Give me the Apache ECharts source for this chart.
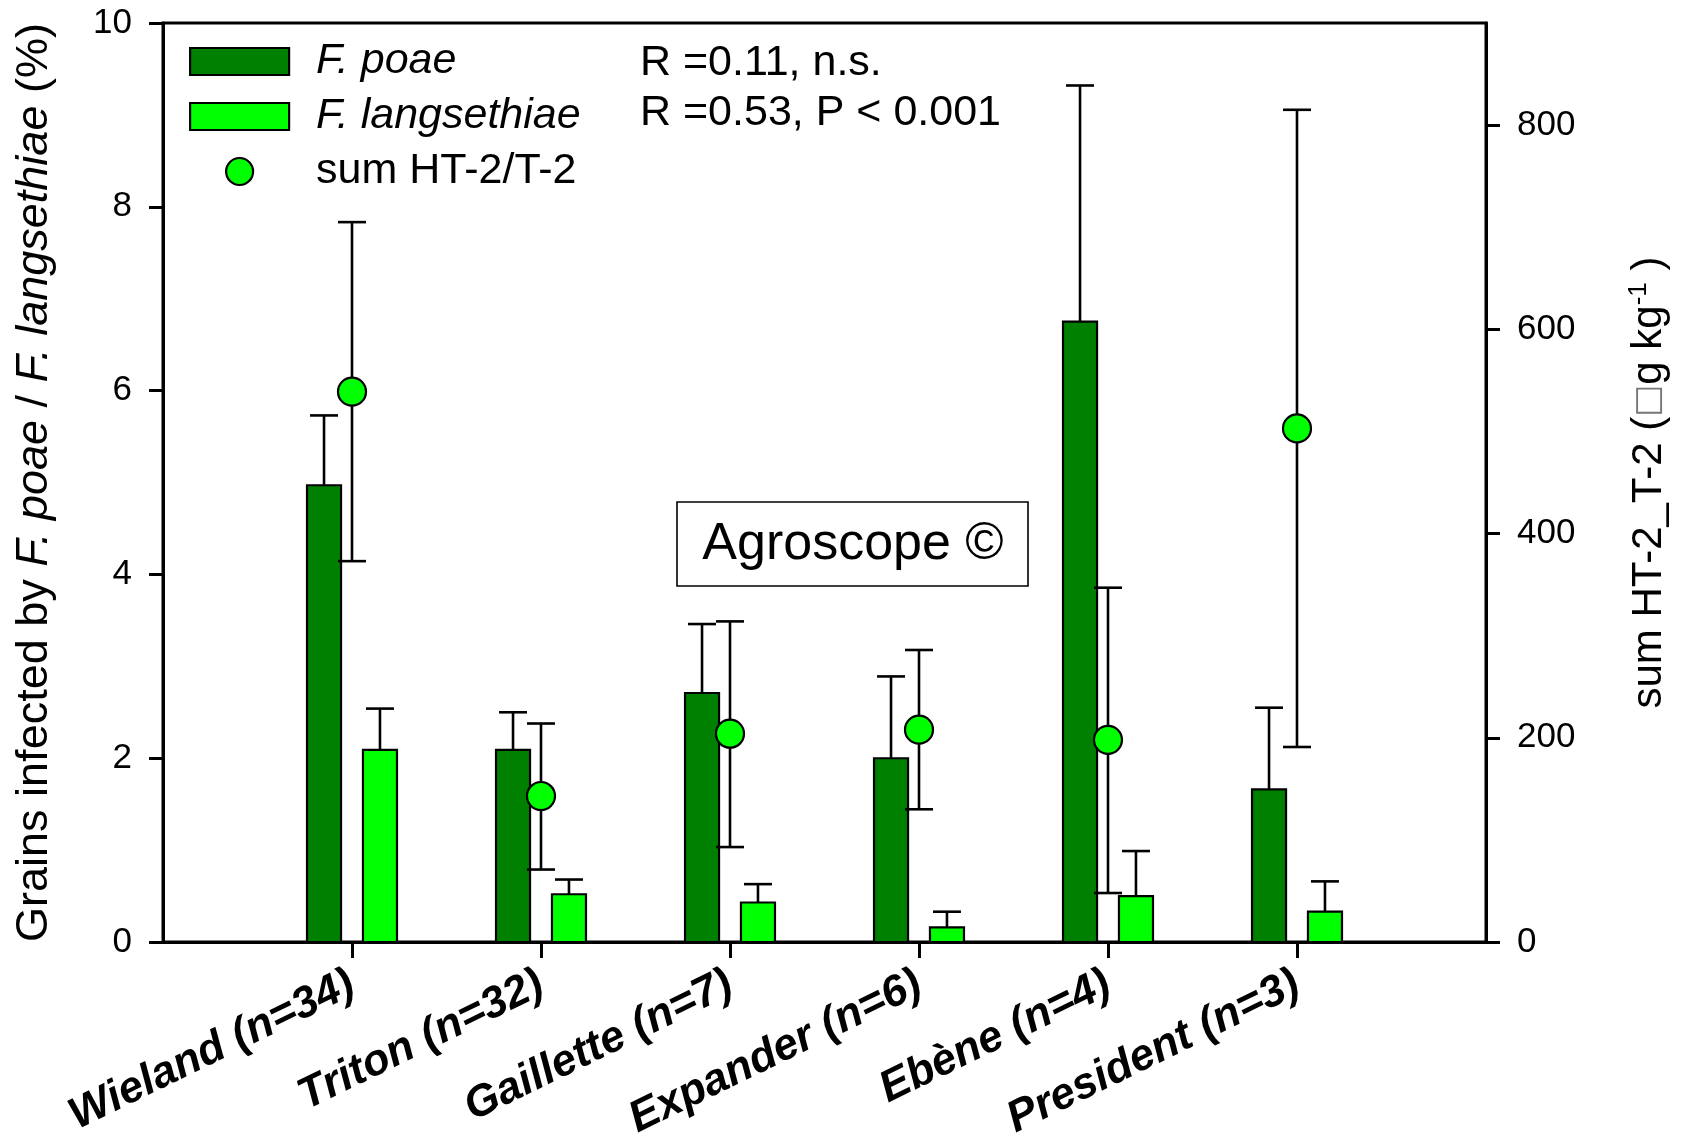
<!DOCTYPE html>
<html>
<head>
<meta charset="utf-8">
<script src="https://cdn.jsdelivr.net/npm/echarts@6/dist/echarts.min.js"></script>
<style>
html, body { margin: 0; padding: 0; background: #fff; }
#chart { width: 1681px; height: 1143px; }
</style>
</head>
<body>
<div id="chart"></div>
<script>
var categories = ['Wieland (n=34)', 'Triton (n=32)', 'Gaillette (n=7)', 'Expander (n=6)', 'Ebène (n=4)', 'President (n=3)'];
// F. poae, % grains infected, bar top and top of error bar
var poae = [4.97, 2.09, 2.71, 2.00, 6.75, 1.66];
var poaeHi = [5.73, 2.50, 3.46, 2.89, 9.32, 2.55];
// F. langsethiae
var lang = [2.09, 0.52, 0.43, 0.16, 0.50, 0.33];
var langHi = [2.54, 0.68, 0.63, 0.33, 0.99, 0.66];
// sum HT-2/T-2, right axis
var toxin = [539, 143, 204, 208, 198, 503];
var toxinHi = [705, 214, 314, 286, 347, 815];
var toxinLo = [373, 71, 93, 130, 48, 191];
var leftTicks = [0, 2, 4, 6, 8, 10];
var rightTicks = [0, 200, 400, 600, 800];

var FONT = '"Liberation Sans", Arial, sans-serif';
var DARK = '#008000';
var LIGHT = '#00ff00';
var OFFSET = 0.148;   // bar offset from group centre, in category units
var BAR_W = 0.18;     // bar width, in category units
var CAP_W = 0.148;    // error cap width

function idx(arr) {
	var out = [];
	for (var i = 0; i < arr.length; i++) out.push([i, arr[i]]);
	return out;
}
function idx2(a, b) {
	var out = [];
	for (var i = 0; i < a.length; i++) out.push([i, a[i], b[i]]);
	return out;
}

function barRender(offset, color) {
	return function (params, api) {
		var x = api.value(0) + offset;
		var top = api.coord([x, api.value(1)]);
		var base = api.coord([x, 0]);
		var w = api.size([BAR_W, 0])[0];
		return {
			type: 'rect',
			shape: { x: top[0] - w / 2, y: top[1], width: w, height: base[1] - top[1] },
			style: { fill: color, stroke: '#000', lineWidth: 2.2 }
		};
	};
}

function errRender(offset, both) {
	return function (params, api) {
		var x = api.value(0) + offset;
		var hi = api.coord([x, api.value(1)]);
		var lo = api.coord([x, api.value(2)]);
		var c = api.size([CAP_W, 0])[0] / 2;
		var st = { stroke: '#000', lineWidth: 2.6 };
		var children = [
			{ type: 'line', shape: { x1: hi[0], y1: hi[1], x2: lo[0], y2: lo[1] }, style: st },
			{ type: 'line', shape: { x1: hi[0] - c, y1: hi[1], x2: hi[0] + c, y2: hi[1] }, style: st }
		];
		if (both) {
			children.push({ type: 'line', shape: { x1: lo[0] - c, y1: lo[1], x2: lo[0] + c, y2: lo[1] }, style: st });
		}
		return { type: 'group', children: children };
	};
}

var myChart = echarts.init(document.getElementById('chart'));
var option = {
	animation: false,
	backgroundColor: '#fff',
	textStyle: { fontFamily: FONT, color: '#000' },
	grid: {
		left: 163, right: 195, top: 23, bottom: 193,
		show: true, borderColor: '#000', borderWidth: 3
	},
	legend: {
		orient: 'vertical',
		left: 189, top: 40, padding: 0,
		itemWidth: 99, itemHeight: 27, itemGap: 12,
		symbolKeepAspect: true,
		selectedMode: false,
		textStyle: { fontFamily: FONT, fontSize: 43, color: '#000', padding: [0, 0, 0, 22] },
		data: [
			{ name: 'F. poae', icon: 'rect', itemStyle: { color: DARK, borderColor: '#000', borderWidth: 2.2 }, textStyle: { fontStyle: 'italic' } },
			{ name: 'F. langsethiae', icon: 'rect', itemStyle: { color: LIGHT, borderColor: '#000', borderWidth: 2.2 }, textStyle: { fontStyle: 'italic' } },
			{ name: 'sum HT-2/T-2', icon: 'circle', itemStyle: { color: LIGHT, borderColor: '#000', borderWidth: 2.2 } }
		]
	},
	xAxis: {
		type: 'value', min: -1, max: 6,
		splitLine: { show: false },
		axisLine: { show: true, onZero: false, lineStyle: { color: '#000', width: 3 } },
		axisTick: { show: true, customValues: [0, 1, 2, 3, 4, 5], length: 16, lineStyle: { color: '#000', width: 3 } },
		axisLabel: {
			customValues: [0, 1, 2, 3, 4, 5],
			formatter: function (v) { return categories[Math.round(v)]; },
			rotate: 26, margin: 40,
			fontFamily: FONT, fontSize: 44, fontWeight: 'bold', fontStyle: 'italic', color: '#000'
		}
	},
	yAxis: [
		{
			type: 'value', min: 0, max: 10, interval: 2,
			position: 'left',
			splitLine: { show: false },
			axisLine: { show: true, onZero: false, lineStyle: { color: '#000', width: 3 } },
			axisTick: { show: true, length: 14, lineStyle: { color: '#000', width: 3 } },
			axisLabel: { customValues: leftTicks, margin: 31, fontFamily: FONT, fontSize: 35, color: '#000' },
			name: '{n|Grains infected by }{i|F. poae}{n| / }{i|F. langsethiae}{n| (%)}',
			nameLocation: 'middle', nameGap: 106,
			nameTextStyle: {
				fontFamily: FONT, fontSize: 45, color: '#000',
				rich: {
					n: { fontFamily: FONT, fontSize: 45, color: '#000' },
					i: { fontFamily: FONT, fontSize: 45, color: '#000', fontStyle: 'italic' }
				}
			}
		},
		{
			type: 'value', min: 0, max: 900,
			position: 'right',
			splitLine: { show: false },
			axisLine: { show: true, onZero: false, lineStyle: { color: '#000', width: 3 } },
			axisTick: { show: true, customValues: rightTicks, length: 14, lineStyle: { color: '#000', width: 3 } },
			axisLabel: { customValues: rightTicks, margin: 31, fontFamily: FONT, fontSize: 35, color: '#000' },
			name: '{n|sum HT-2_T-2 (}{b|□}{n|g kg}{s|-1}{n| )}',
			nameLocation: 'middle', nameGap: 140, nameRotate: 90,
			nameTextStyle: {
				fontFamily: FONT, fontSize: 42, color: '#000',
				rich: {
					n: { fontFamily: FONT, fontSize: 42, color: '#000', lineHeight: 46 },
					b: { fontFamily: 'DejaVu Sans', fontSize: 34, color: '#777', lineHeight: 46 },
					s: { fontFamily: FONT, fontSize: 26, color: '#000', verticalAlign: 'top', lineHeight: 46 }
				}
			}
		}
	],
	graphic: [
		{ type: 'text', left: 640, top: 42, style: { text: 'R =0.11, n.s.', font: '43px "Liberation Sans", Arial, sans-serif', fill: '#000' } },
		{ type: 'text', left: 640, top: 92, style: { text: 'R =0.53, P < 0.001', font: '43px "Liberation Sans", Arial, sans-serif', fill: '#000' } },
		{ type: 'rect', shape: { x: 677, y: 502, width: 351, height: 84 }, style: { fill: '#fff', stroke: '#000', lineWidth: 1.6 }, z: 10 },
		{ type: 'text', x: 853, y: 545, style: { text: 'Agroscope ©', font: '52px "Liberation Sans", Arial, sans-serif', fill: '#000', textAlign: 'center', textVerticalAlign: 'middle' }, z: 11 }
	],
	series: [
		{ name: 'F. poae', type: 'custom', yAxisIndex: 0, renderItem: errRender(-OFFSET, false), data: idx2(poaeHi, poae), z: 2 },
		{ name: 'F. langsethiae', type: 'custom', yAxisIndex: 0, renderItem: errRender(OFFSET, false), data: idx2(langHi, lang), z: 2 },
		{ name: 'F. poae', type: 'custom', yAxisIndex: 0, renderItem: barRender(-OFFSET, DARK), data: idx(poae), itemStyle: { color: DARK }, z: 3 },
		{ name: 'F. langsethiae', type: 'custom', yAxisIndex: 0, renderItem: barRender(OFFSET, LIGHT), data: idx(lang), itemStyle: { color: LIGHT }, z: 3 },
		{ name: 'sum HT-2/T-2', type: 'custom', yAxisIndex: 1, renderItem: errRender(0, true), data: idx2(toxinHi, toxinLo), z: 4 },
		{
			name: 'sum HT-2/T-2', type: 'scatter', yAxisIndex: 1, data: idx(toxin),
			symbol: 'circle', symbolSize: 28,
			itemStyle: { color: LIGHT, borderColor: '#000', borderWidth: 2.2, opacity: 1 }, z: 5
		}
	]
};
myChart.setOption(option);
</script>
</body>
</html>
